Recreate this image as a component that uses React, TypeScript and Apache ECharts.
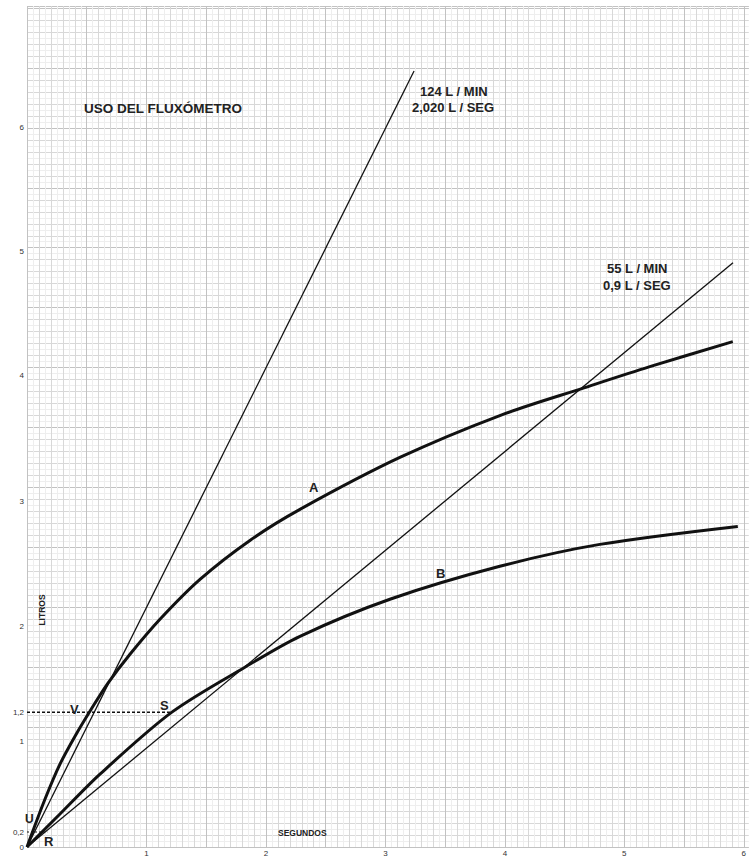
import React, { useEffect, useRef } from "react";
import * as echarts from "echarts";

// Axis tick labels (values in axis units as they sit on the drawing)
const xLabelValues = [1, 2, 3, 4, 5, 6];
const yLabelValues = [0, 0.125, 0.88, 1.125, 1.84, 2.88, 3.93, 4.97, 6.0];
const yLabelTexts = ["0", "0,2", "1", "1,2", "2", "3", "4", "5", "6"];

// Straight flow lines (seconds, litres)
const line124 = [[0, 0], [3.24, 6.475]];
const line55 = [[0, 0], [5.91, 4.875]];

// Curve A
const curveA = [
  [0, 0], [0.151, 0.4], [0.276, 0.692], [0.402, 0.925], [0.527, 1.133],
  [0.678, 1.367], [0.862, 1.608], [1.113, 1.9], [1.448, 2.233], [1.866, 2.558],
  [2.285, 2.817], [3.121, 3.25], [3.958, 3.6], [4.669, 3.833], [5.213, 4.008],
  [5.908, 4.217],
];
// Curve B
const curveB = [
  [0, 0], [0.276, 0.275], [0.611, 0.608], [1.213, 1.125], [1.824, 1.5],
  [2.285, 1.758], [3.038, 2.067], [3.958, 2.342], [4.795, 2.525], [5.95, 2.675],
];
// Dotted reference lines
const dotted12 = [[0, 1.125], [1.21, 1.125]];
const dotted02 = [[0, 0.125], [0.17, 0.125]];

const FONT = "'Liberation Sans', Arial, sans-serif";

export default function App() {
  const ref = useRef<HTMLDivElement>(null);
  useEffect(() => {
    document.body.style.margin = "0";
    const chart = echarts.init(ref.current!, null, { renderer: "svg" });
    const gridAxisX = (interval: number, color: string, minor: boolean) => ({
      type: "value",
      min: 0,
      max: 6.042,
      interval,
      axisLine: { show: false },
      axisTick: { show: false },
      axisLabel: { show: false },
      splitLine: { show: true, lineStyle: { color, width: 1 } },
      minorTick: { show: false, splitNumber: 2 },
      minorSplitLine: { show: minor, lineStyle: { color: "#eeeeee", width: 1 } },
    });
    const gridAxisY = (interval: number, color: string, minor: boolean) => ({
      type: "value",
      min: 0,
      max: 7.017,
      interval,
      axisLine: { show: false },
      axisTick: { show: false },
      axisLabel: { show: false },
      splitLine: { show: true, lineStyle: { color, width: 1 } },
      minorTick: { show: false, splitNumber: 2 },
      minorSplitLine: { show: minor, lineStyle: { color: "#eeeeee", width: 1 } },
    });
    const xMain: any = gridAxisX(0.1, "#d8d8d8", true);
    xMain.axisLabel = {
      show: true,
      customValues: xLabelValues,
      formatter: (v: number) => String(Math.round(v)),
      fontSize: 8,
      color: "#333",
      fontFamily: FONT,
      margin: 2,
    };
    const yMain: any = gridAxisY(0.1, "#d8d8d8", true);
    yMain.axisLabel = {
      show: true,
      customValues: yLabelValues,
      formatter: (v: number) => {
        const i = yLabelValues.findIndex((t) => Math.abs(t - v) < 1e-6);
        return i >= 0 ? yLabelTexts[i] : "";
      },
      fontSize: 8,
      color: "#333",
      fontFamily: FONT,
      margin: 3,
    };
    const xMajor: any = gridAxisX(0.5, "#c2c2c2", false);
    const yMajor: any = gridAxisY(0.5, "#c2c2c2", false);

    const lineSeries = (data: number[][], width: number, type: any = "solid") => ({
      type: "line",
      data,
      xAxisIndex: 0,
      yAxisIndex: 0,
      smooth: false,
      symbol: "none",
      lineStyle: { color: "#111", width, type },
      silent: true,
      z: 5,
    });

    const txt = (text: string, x: number, y: number, size = 13) => ({
      type: "text",
      x,
      y,
      style: {
        text,
        fontSize: size,
        fontWeight: "bold",
        fontFamily: FONT,
        fill: "#222",
      },
      z: 10,
    });

    chart.setOption({
      animation: false,
      backgroundColor: "#ffffff",
      grid: { left: 27, top: 6, width: 722, height: 842, containLabel: false },
      xAxis: [xMain, xMajor],
      yAxis: [yMain, yMajor],
      series: [
        lineSeries(line124, 1.3),
        lineSeries(line55, 1.3),
        { ...lineSeries(curveA, 3), smooth: 0.3 },
        { ...lineSeries(curveB, 3), smooth: 0.3 },
        lineSeries(dotted12, 1.5, [3, 2]),
        lineSeries(dotted02, 1.2, [2, 2]),
      ],
      graphic: [
        txt("USO DEL FLUXÓMETRO", 84, 101, 13.5),
        txt("124 L / MIN", 420, 85, 13),
        txt("2,020 L / SEG", 412, 101, 13),
        txt("55 L / MIN", 607, 262, 13),
        txt("0,9 L / SEG", 603, 279, 13),
        txt("A", 309, 481, 13),
        txt("B", 436, 567, 13),
        txt("V", 70, 703, 13),
        txt("S", 160, 699, 13),
        txt("U", 25, 813, 12),
        txt("R", 44, 835, 13),
        txt("SEGUNDOS", 278, 828, 8.5),
        {
          type: "text",
          x: 42,
          y: 610,
          rotation: Math.PI / 2,
          style: {
            text: "LITROS",
            fontSize: 8.5,
            fontWeight: "bold",
            fontFamily: FONT,
            fill: "#222",
            align: "center",
            verticalAlign: "middle",
          },
          z: 10,
        },
      ],
    });
    return () => chart.dispose();
  }, []);
  return <div ref={ref} style={{ width: 749, height: 857 }} />;
}
